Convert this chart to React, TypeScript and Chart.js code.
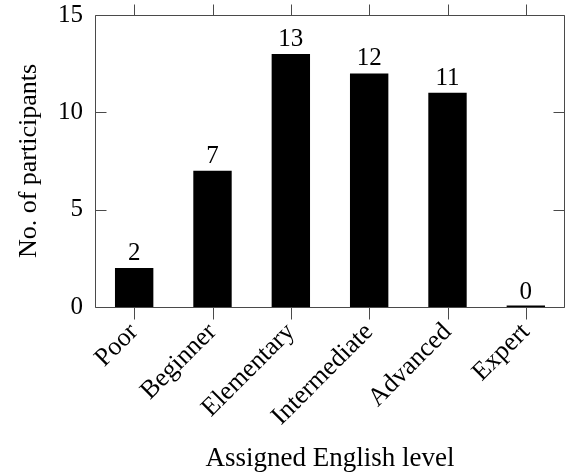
import React, { useEffect, useRef } from 'react';
import { Chart, registerables } from 'chart.js';

Chart.register(...registerables);

const categories = ['Poor', 'Beginner', 'Elementary', 'Intermediate', 'Advanced', 'Expert'];
const participants = [2, 7, 13, 12, 11, 0];
const yTickValues = [0, 5, 10, 15];
const xTitle = 'Assigned English level';
const yTitle = 'No. of participants';

const FONT = "'Liberation Serif', 'Times New Roman', serif";

const framePlugin = {
  id: 'pgfFrame',
  afterDatasetsDraw(chart: any) {
    const { ctx, chartArea: a, scales } = chart;
    const xs = scales.x;
    const ys = scales.y;
    ctx.save();
    ctx.strokeStyle = '#4a4a4a';
    ctx.lineWidth = 1;
    ctx.beginPath();
    const L = a.left + 0.5;
    const R = a.right - 0.5;
    const T = Math.round(a.top) + 0.5;
    const B = Math.round(a.bottom) + 0.5;
    ctx.moveTo(L, T);
    ctx.lineTo(R, T);
    ctx.lineTo(R, B);
    ctx.lineTo(L, B);
    ctx.closePath();
    // x ticks, outward on top and bottom
    categories.forEach((_, i) => {
      const px = Math.round(xs.getPixelForTick(i)) + 0.5;
      ctx.moveTo(px, T - 11);
      ctx.lineTo(px, T);
      ctx.moveTo(px, B);
      ctx.lineTo(px, B + 12);
    });
    // y ticks, inward on left and right
    yTickValues.forEach((v) => {
      const py = Math.round(ys.getPixelForValue(v)) + 0.5;
      ctx.moveTo(L, py);
      ctx.lineTo(L + 11, py);
      ctx.moveTo(R - 11, py);
      ctx.lineTo(R, py);
    });
    ctx.stroke();

    // value labels above bars
    const meta = chart.getDatasetMeta(0);
    ctx.fillStyle = '#000';
    ctx.font = `25px ${FONT}`;
    ctx.textAlign = 'center';
    ctx.textBaseline = 'alphabetic';
    meta.data.forEach((bar: any, i: number) => {
      const top = ys.getPixelForValue(participants[i]);
      ctx.fillText(String(participants[i]), bar.x, top - 8);
    });
    ctx.restore();
  },
};

export default function App() {
  const ref = useRef<HTMLCanvasElement | null>(null);

  useEffect(() => {
    if (!ref.current) return;
    const chart = new Chart(ref.current, {
      type: 'bar',
      data: {
        labels: categories,
        datasets: [
          {
            data: participants,
            backgroundColor: '#000',
            borderColor: '#000',
            borderWidth: 0,
            barPercentage: 0.49,
            categoryPercentage: 1.0,
            minBarLength: 1.5,
          },
        ],
      },
      options: {
        responsive: false,
        animation: false,
        layout: { padding: { top: 0, right: 0, bottom: 0, left: 0 } },
        plugins: {
          legend: { display: false },
          tooltip: { enabled: false },
        },
        scales: {
          x: {
            offset: true,
            grid: { display: false, drawTicks: false },
            border: { display: false },
            ticks: {
              autoSkip: false,
              maxRotation: 45,
              minRotation: 45,
              padding: 10,
              color: '#000',
              font: { family: FONT, size: 26 },
            },
            title: {
              display: true,
              text: xTitle,
              color: '#000',
              font: { family: FONT, size: 27 },
              padding: { top: 0, bottom: 0 },
            },
            afterFit(s: any) {
              s.height = 168;
              s.paddingLeft = 0;
              s.paddingRight = 0;
            },
          },
          y: {
            min: 0,
            max: 15,
            grid: { display: false, drawTicks: false },
            border: { display: false },
            ticks: {
              stepSize: 5,
              padding: 12,
              color: '#000',
              font: { family: FONT, size: 25, lineHeight: 1.25 },
            },
            title: {
              display: true,
              text: yTitle,
              color: '#000',
              font: { family: FONT, size: 26 },
              padding: { top: 14, bottom: 0 },
            },
            afterFit(s: any) {
              s.width = 95;
              s.paddingTop = 15;
              s.paddingBottom = 0;
            },
          },
        },
      },
      plugins: [framePlugin],
    });
    return () => chart.destroy();
  }, []);

  return (
    <div style={{ position: 'absolute', left: 0, top: 0, width: 565, height: 475, background: '#fff' }}>
      <canvas ref={ref} width={565} height={475} style={{ display: 'block' }} />
    </div>
  );
}
